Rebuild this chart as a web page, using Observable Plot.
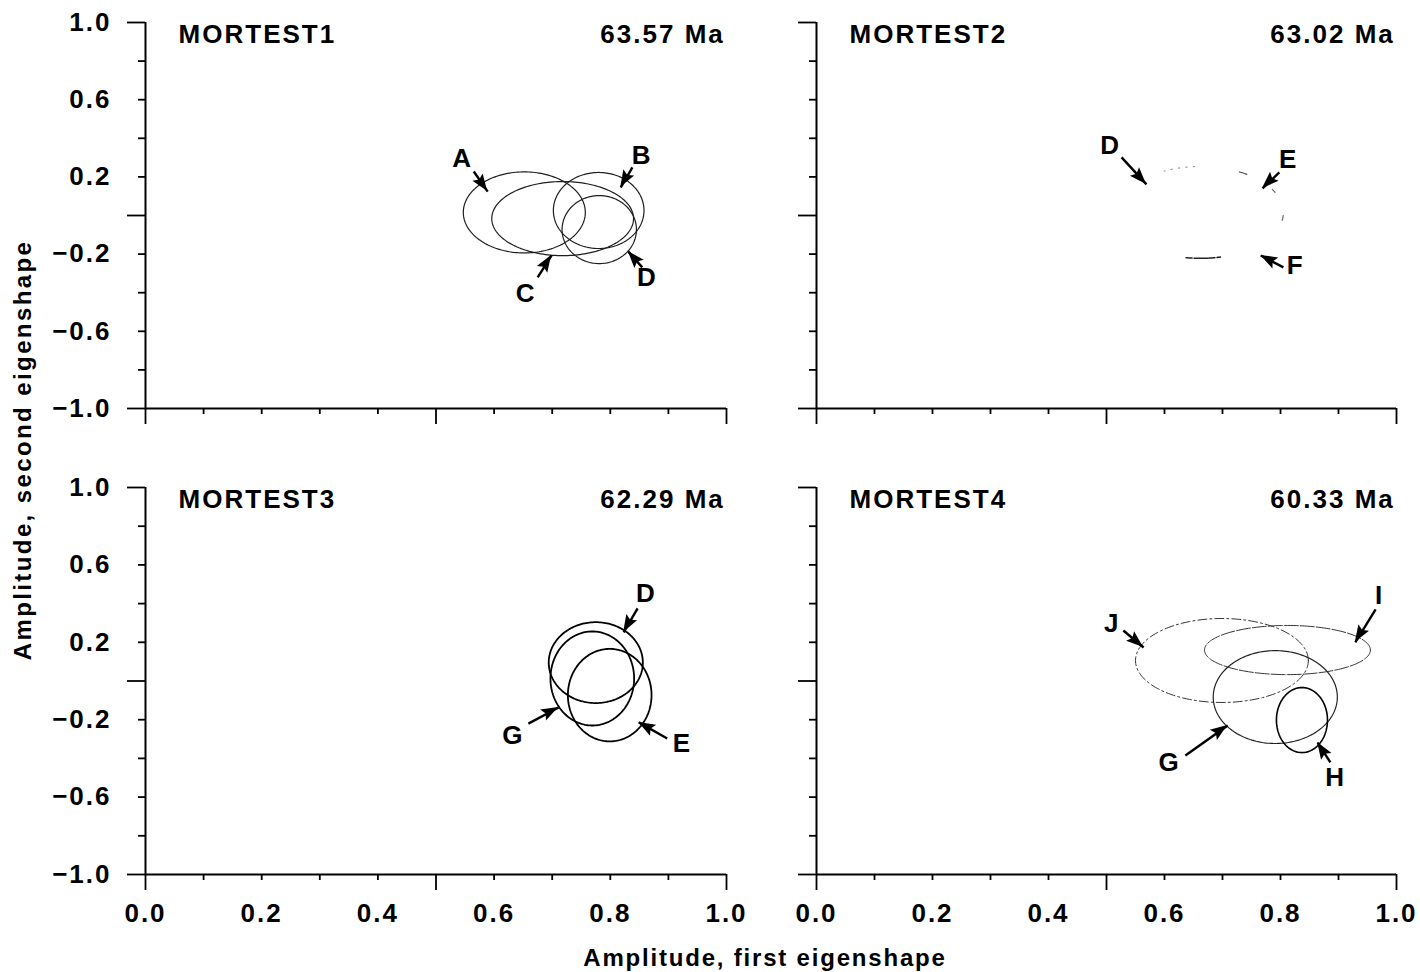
<!DOCTYPE html>
<html>
<head>
<meta charset="utf-8">
<script src="https://cdn.jsdelivr.net/npm/d3@7"></script>
<script src="https://cdn.jsdelivr.net/npm/@observablehq/plot@0.6"></script>
<style>
  body { margin: 0; background: #fff; }
  #wrap { position: relative; width: 1420px; height: 972px; overflow: hidden; background: #fff;
          font-family: "Liberation Sans", Arial, sans-serif; font-weight: bold; color: #000; }
  .panel { position: absolute; }
  .panel svg { max-width: none; display: block; }
  #ytitle { position: absolute; left: 23px; top: 450px; transform: translate(-50%, -50%) rotate(-90deg);
            white-space: nowrap; font-size: 24px; line-height: 24px; letter-spacing: 2.4px; }
  #xtitle { position: absolute; left: 765px; top: 946px; transform: translateX(-50%);
            white-space: nowrap; font-size: 24px; line-height: 24px; letter-spacing: 1.8px; }
</style>
</head>
<body>
<div id="wrap">
  <div id="ytitle">Amplitude, second eigenshape</div>
  <div id="xtitle">Amplitude, first eigenshape</div>
</div>
<script>
// ---------- data ----------
const panelNames = ["MORTEST1", "MORTEST2", "MORTEST3", "MORTEST4"];
const panelAges = ["63.57 Ma", "63.02 Ma", "62.29 Ma", "60.33 Ma"];

const xTickLabels = [0, 0.2, 0.4, 0.6, 0.8, 1.0];
const xMinorTicks = [0.1, 0.2, 0.3, 0.4, 0.6, 0.7, 0.8, 0.9];
const xMajorTicks = [0, 0.5, 1];
const yTickLabels = [1.0, 0.6, 0.2, -0.2, -0.6, -1.0];
const yMinorTicks = [-0.8, -0.6, -0.4, -0.2, 0.2, 0.4, 0.6, 0.8];
const yMajorTicks = [-1, 0, 1];

// ellipses (centre and semi-axes, in data units)
const ellipses1 = [
  {id: "A", cx: 0.652, cy: 0.016, rx: 0.105, ry: 0.210},
  {id: "C", cx: 0.718, cy: -0.016, rx: 0.122, ry: 0.192},
  {id: "B", cx: 0.780, cy: 0.026, rx: 0.078, ry: 0.197},
  {id: "D", cx: 0.781, cy: -0.073, rx: 0.064, ry: 0.176}
];
const ellipses2 = [
  {id: "DEF", cx: 0.662, cy: 0.016, rx: 0.143, ry: 0.238}
];
// only faint fragments of panel 2's ellipse are visible (angles in degrees)
const arcs2 = [
  {id: "f1", a0: 94, a1: 116},
  {id: "f2", a0: 56, a1: 62},
  {id: "f3", a0: 26, a1: 30},
  {id: "f4", a0: -10, a1: -4},
  {id: "f5", a0: -100, a1: -76}
];
const ellipses3 = [
  {id: "D", cx: 0.775, cy: 0.095, rx: 0.081, ry: 0.209},
  {id: "G", cx: 0.769, cy: 0.013, rx: 0.072, ry: 0.243},
  {id: "E", cx: 0.799, cy: -0.073, rx: 0.072, ry: 0.239}
];
const ellipses4 = [
  {id: "J", cx: 0.699, cy: 0.106, rx: 0.149, ry: 0.217},
  {id: "I", cx: 0.812, cy: 0.160, rx: 0.143, ry: 0.127},
  {id: "G", cx: 0.791, cy: -0.083, rx: 0.107, ry: 0.240},
  {id: "H", cx: 0.837, cy: -0.202, rx: 0.044, ry: 0.168}
];

// labelled arrows: label position (lx, ly) and arrow from (x1, y1) to tip (x2, y2)
const arrows1 = [
  {label: "A", lx: 0.546, ly: 0.295, x1: 0.565, y1: 0.228, x2: 0.589, y2: 0.124},
  {label: "B", lx: 0.855, ly: 0.311, x1: 0.838, y1: 0.249, x2: 0.818, y2: 0.145},
  {label: "C", lx: 0.655, ly: -0.404, x1: 0.675, y1: -0.321, x2: 0.699, y2: -0.207},
  {label: "D", lx: 0.864, ly: -0.321, x1: 0.855, y1: -0.269, x2: 0.831, y2: -0.187}
];
const arrows2 = [
  {label: "D", lx: 0.507, ly: 0.363, x1: 0.526, y1: 0.301, x2: 0.569, y2: 0.161},
  {label: "E", lx: 0.814, ly: 0.290, x1: 0.798, y1: 0.223, x2: 0.769, y2: 0.140},
  {label: "F", lx: 0.826, ly: -0.259, x1: 0.805, y1: -0.269, x2: 0.766, y2: -0.207}
];
const arrows3 = [
  {label: "D", lx: 0.862, ly: 0.452, x1: 0.847, y1: 0.375, x2: 0.823, y2: 0.251},
  {label: "G", lx: 0.633, ly: -0.282, x1: 0.659, y1: -0.220, x2: 0.711, y2: -0.137},
  {label: "E", lx: 0.924, ly: -0.323, x1: 0.898, y1: -0.297, x2: 0.849, y2: -0.214}
];
const arrows4 = [
  {label: "J", lx: 0.510, ly: 0.297, x1: 0.529, y1: 0.261, x2: 0.564, y2: 0.173},
  {label: "I", lx: 0.971, ly: 0.442, x1: 0.964, y1: 0.370, x2: 0.929, y2: 0.199},
  {label: "G", lx: 0.609, ly: -0.421, x1: 0.636, y1: -0.385, x2: 0.709, y2: -0.230},
  {label: "H", lx: 0.895, ly: -0.499, x1: 0.886, y1: -0.421, x2: 0.864, y2: -0.318}
];

// ---------- styles ----------
const ellipseStyles = {
  "0": {stroke: "#1e1e1e", strokeWidth: 1.2},
  "2": {stroke: "#000", strokeWidth: 1.8},
  "3J": {stroke: "#333", strokeWidth: 1.0, strokeDasharray: "9 3 2 3"},
  "3I": {stroke: "#333", strokeWidth: 1.0, strokeDasharray: "14 2"},
  "3G": {stroke: "#222", strokeWidth: 1.2},
  "3H": {stroke: "#000", strokeWidth: 1.6}
};
const arcStyles = {
  f1: {stroke: "#888", strokeWidth: 1, strokeDasharray: "1.5 6"},
  f2: {stroke: "#555", strokeWidth: 1.2},
  f3: {stroke: "#666", strokeWidth: 1.2},
  f4: {stroke: "#666", strokeWidth: 1.2},
  f5: {stroke: "#222", strokeWidth: 1.5, strokeDasharray: "6 2 14 1"}
};

const panelEllipses = [ellipses1, [], ellipses3, ellipses4];
const panelArrows = [arrows1, arrows2, arrows3, arrows4];

// ---------- helpers ----------
function ellipsePoints(e, a0 = 0, a1 = 360, step = 2, id = e.id) {
  const pts = [];
  for (let a = a0; a <= a1 + 1e-9; a += step) {
    const t = a * Math.PI / 180;
    pts.push({id, x: e.cx + e.rx * Math.cos(t), y: e.cy + e.ry * Math.sin(t)});
  }
  return pts;
}

function arrowHeads(arrows) {
  return (index, scales) => {
    const g = d3.create("svg:g").attr("fill", "#000");
    for (const a of arrows) {
      const x1 = scales.x(a.x1), y1 = scales.y(a.y1), x2 = scales.x(a.x2), y2 = scales.y(a.y2);
      const dx = x2 - x1, dy = y2 - y1, L = Math.hypot(dx, dy), ux = dx / L, uy = dy / L;
      const len = 17, hw = 6.2;
      const bx = x2 - ux * len, by = y2 - uy * len;
      g.append("path").attr("d",
        `M${x2},${y2}L${bx - uy * hw},${by + ux * hw}L${bx + ux * 3},${by + uy * 3}L${bx + uy * hw},${by - ux * hw}Z`);
    }
    return g.node();
  };
}

const fmt = d => (d < 0 ? "\u2212" : "") + Math.abs(d).toFixed(1);

function makePanel(p) {
  const isLeft = p % 2 === 0, isBottom = p >= 2;
  const width = isLeft ? 770 : 650;
  const height = isBottom ? 490 : 440;
  const marks = [];

  // axis lines
  marks.push(Plot.ruleX([0], {y1: -1, y2: 1, stroke: "#000", strokeWidth: 2}));
  marks.push(Plot.ruleY([-1], {x1: 0, x2: 1, stroke: "#000", strokeWidth: 2}));
  // ticks
  marks.push(Plot.axisY(yMinorTicks, {tickSize: 7, tickFormat: () => "", strokeWidth: 1.8, label: null}));
  marks.push(Plot.axisY(yMajorTicks, {tickSize: 18, tickFormat: () => "", strokeWidth: 1.8, label: null}));
  marks.push(Plot.axisX(xMinorTicks, {tickSize: 6, tickFormat: () => "", strokeWidth: 1.8, label: null}));
  marks.push(Plot.axisX(xMajorTicks, {tickSize: 16, tickFormat: () => "", strokeWidth: 1.8, label: null}));
  if (isLeft) marks.push(Plot.axisY(yTickLabels, {tickSize: 0, tickPadding: 34, tickFormat: fmt, label: null}));
  if (isBottom) marks.push(Plot.axisX(xTickLabels, {tickSize: 0, tickPadding: 29, tickFormat: fmt, label: null}));

  // ellipses
  for (const e of panelEllipses[p]) {
    const st = ellipseStyles[`${p}${e.id}`] || ellipseStyles[`${p}`];
    marks.push(Plot.line(ellipsePoints(e), {x: "x", y: "y", z: "id", ...st}));
  }
  if (p === 1) {
    for (const a of arcs2) {
      marks.push(Plot.line(ellipsePoints(ellipses2[0], a.a0, a.a1, 1, a.id), {x: "x", y: "y", z: "id", ...arcStyles[a.id]}));
    }
  }

  // arrows and labels
  const arr = panelArrows[p];
  marks.push(Plot.link(arr, {x1: "x1", y1: "y1", x2: "x2", y2: "y2", stroke: "#000", strokeWidth: 2.4}));
  marks.push(arrowHeads(arr));
  marks.push(Plot.text(arr, {x: "lx", y: "ly", text: "label", fontSize: 26, fontWeight: "bold"}));

  // panel titles
  marks.push(Plot.text([{t: panelNames[p]}], {x: () => 0.057, y: () => 0.935, text: "t", textAnchor: "start", fontSize: 26, fontWeight: "bold"}));
  marks.push(Plot.text([{t: panelAges[p]}], {x: () => 0.997, y: () => 0.935, text: "t", textAnchor: "end", fontSize: 26, fontWeight: "bold"}));

  const chart = Plot.plot({
    width, height,
    marginLeft: isLeft ? 145 : 46,
    marginRight: isLeft ? 44 : 24,
    marginTop: isBottom ? 47 : 22,
    marginBottom: isBottom ? 56 : 32,
    x: {domain: [0, 1], axis: null, label: null},
    y: {domain: [-1, 1], axis: null, label: null},
    style: {
      fontFamily: "'Liberation Sans', Arial, sans-serif",
      fontSize: "26px",
      fontWeight: "bold",
      letterSpacing: "2px",
      background: "transparent",
      color: "#000",
      overflow: "visible"
    },
    marks
  });
  const div = document.createElement("div");
  div.className = "panel";
  div.style.left = (isLeft ? 0 : 770) + "px";
  div.style.top = (isBottom ? 440 : 0) + "px";
  div.appendChild(chart);
  document.getElementById("wrap").appendChild(div);
}

for (let p = 0; p < 4; p++) makePanel(p);
</script>
</body>
</html>
